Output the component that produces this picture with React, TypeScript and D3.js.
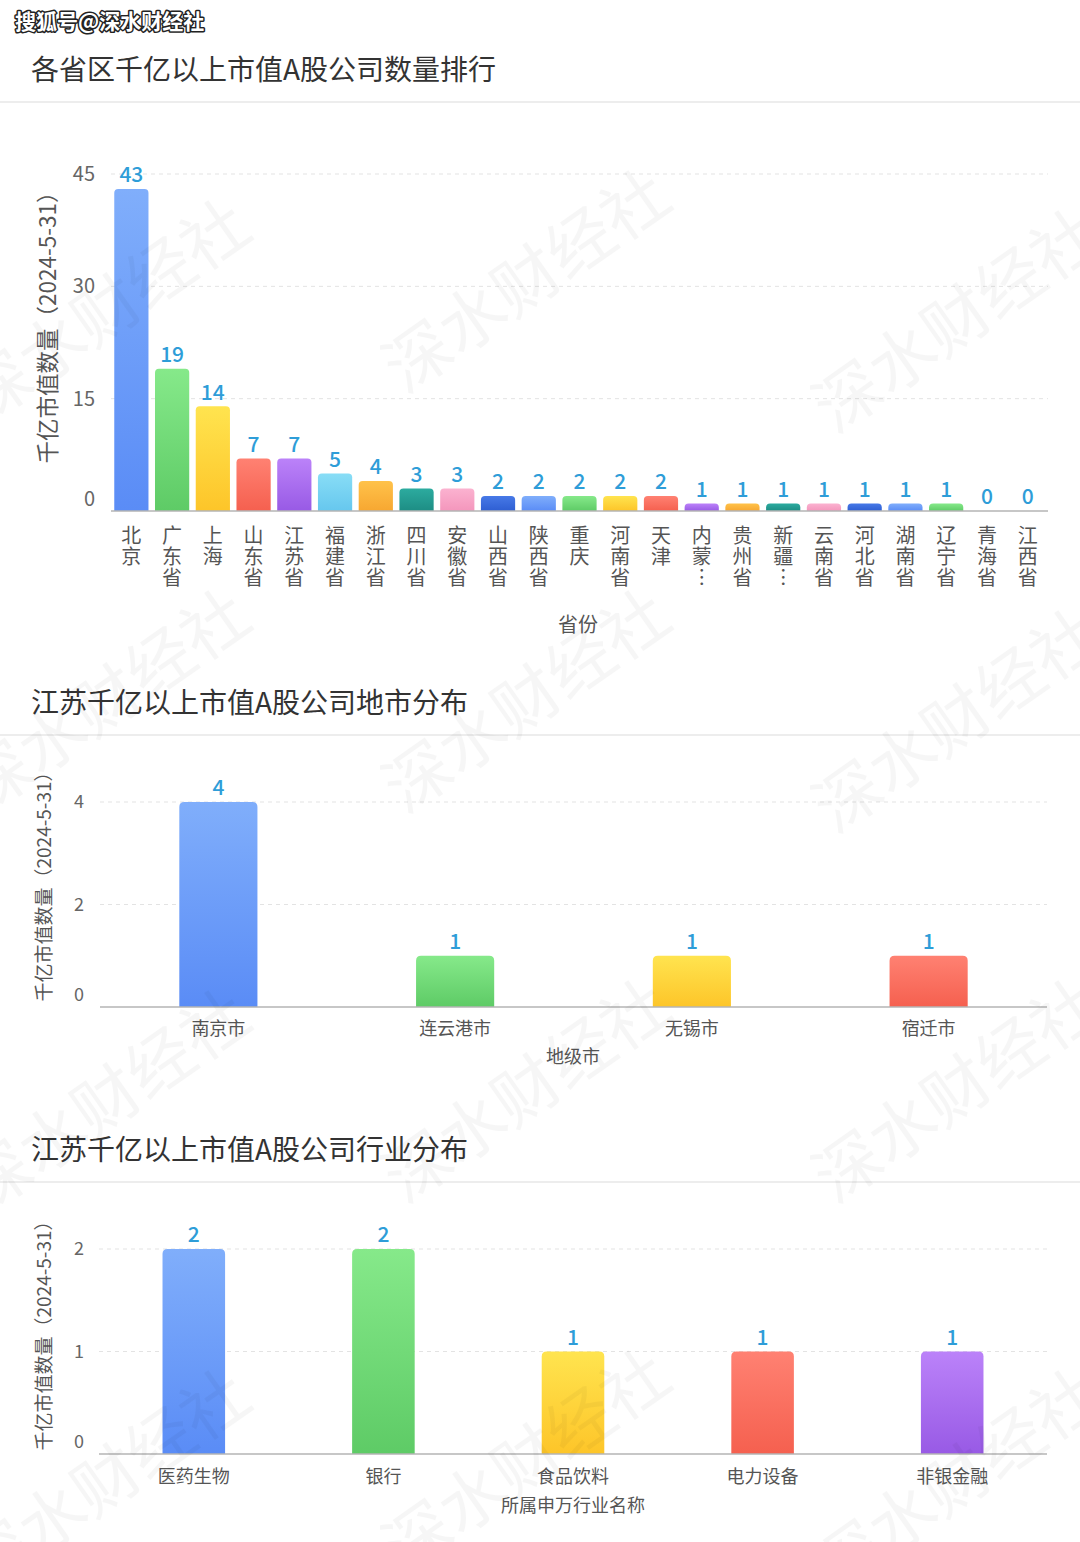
import React from "react";
import * as d3 from "d3";

// ---------- DATA ----------
const provinces = ["北京", "广东省", "上海", "山东省", "江苏省", "福建省", "浙江省", "四川省", "安徽省", "山西省", "陕西省", "重庆", "河南省", "天津", "内蒙古自治区", "贵州省", "新疆维吾尔自治区", "云南省", "河北省", "湖南省", "辽宁省", "青海省", "江西省"];
const provinceCounts = [43, 19, 14, 7, 7, 5, 4, 3, 3, 2, 2, 2, 2, 2, 1, 1, 1, 1, 1, 1, 1, 0, 0];
const provinceTicks = [0, 15, 30, 45];

const cities = ["南京市", "连云港市", "无锡市", "宿迁市"];
const cityCounts = [4, 1, 1, 1];
const cityTicks = [0, 2, 4];

const industries = ["医药生物", "银行", "食品饮料", "电力设备", "非银金融"];
const industryCounts = [2, 2, 1, 1, 1];
const industryTicks = [0, 1, 2];

const titles = ["各省区千亿以上市值A股公司数量排行", "江苏千亿以上市值A股公司地市分布", "江苏千亿以上市值A股公司行业分布"];
const yTitle = "千亿市值数量（2024-5-31）";
const xTitles = ["省份", "地级市", "所属申万行业名称"];

// ---------- STYLE ----------
const GRADS: Record<string, [string, string]> = {
  blue: ["#80aefb", "#5a8cf6"],
  green: ["#86e98a", "#5ecb66"],
  yellow: ["#ffe44f", "#fdc529"],
  red: ["#ff8172", "#f5604f"],
  purple: ["#bb82f9", "#985ae5"],
  lightblue: ["#88ddf6", "#66c7ee"],
  orange: ["#ffc24a", "#f7a731"],
  teal: ["#2cab9f", "#1d8d84"],
  pink: ["#fbb2d0", "#f496bc"],
  darkblue: ["#4779e7", "#2e5ed2"],
};
const palette1 = ["blue", "green", "yellow", "red", "purple", "lightblue", "orange", "teal", "pink", "darkblue", "blue", "green", "yellow", "red", "purple", "orange", "teal", "pink", "darkblue", "blue", "green", "blue", "green"];
const palette2 = ["blue", "green", "yellow", "red"];
const palette3 = ["blue", "green", "yellow", "red", "purple"];

const FONT = "'Noto Sans CJK SC', 'Noto Sans', sans-serif";
const LABEL_BLUE = "#2e9dd8";
const AXIS_TEXT = "#666";

function topRounded(x: number, y: number, w: number, h: number, r: number) {
  if (h <= 0) return "";
  const rr = Math.min(r, h, w / 2);
  return `M${x},${y + h}V${y + rr}Q${x},${y} ${x + rr},${y}H${x + w - rr}Q${x + w},${y} ${x + w},${y + rr}V${y + h}Z`;
}

function shortLabel(s: string) {
  return s.length > 3 ? s.slice(0, 2) + "︙" : s;
}

type ChartProps = {
  cats: string[];
  vals: number[];
  ticks: number[];
  palette: string[];
  x0: number; x1: number; yBase: number; yTop: number;
  pi: number; po: number; radius: number;
  tickX: number; tickFont: number;
  yTitleX: number; yTitleY: number; yTitleFont: number;
  vertical: boolean; labelY: number; labelFont: number;
  xTitle: string; xTitleX: number; xTitleY: number; xTitleFont: number;
  id: string;
};

function BarChart(p: ChartProps) {
  const x = d3.scaleBand<string>().domain(p.cats).range([p.x0, p.x1]).paddingInner(p.pi).paddingOuter(p.po);
  const maxT = p.ticks[p.ticks.length - 1];
  const y = d3.scaleLinear().domain([0, maxT]).range([p.yBase, p.yTop]);
  const bw = x.bandwidth();
  return (
    <g>
      {p.ticks.filter(t => t !== 0).map(t => (
        <line key={"g" + t} x1={p.x0} x2={p.x1} y1={y(t)} y2={y(t)} stroke="#e3e3e3" strokeWidth={1} strokeDasharray="4,4" />
      ))}
      {p.ticks.map(t => (
        <text key={"t" + t} x={p.tickX} y={y(t) - (t === 0 ? 12 : 0)} dy="0.35em" textAnchor="end" fontSize={p.tickFont} fill={AXIS_TEXT} fontFamily={FONT}>{t}</text>
      ))}
      <text transform={`translate(${p.yTitleX},${p.yTitleY}) rotate(-90)`} textAnchor="middle" dy="0.35em" fontSize={p.yTitleFont} fill="#555" fontFamily={FONT}>{yTitle}</text>
      {p.cats.map((c, i) => {
        const v = p.vals[i];
        const bx = x(c)!;
        const by = y(v);
        const h = p.yBase - by;
        return (
          <g key={c}>
            {v > 0 && <path d={topRounded(bx, by, bw, h, p.radius)} fill={`url(#${p.id}-${p.palette[i]})`} />}
            <text x={bx + bw / 2} y={by - 14} dy="0.35em" textAnchor="middle" fontSize={21} fill={LABEL_BLUE} fontFamily={FONT} fontWeight={500}>{v}</text>
          </g>
        );
      })}
      <line x1={p.x0} x2={p.x1} y1={p.yBase} y2={p.yBase} stroke="#b5b5b5" strokeWidth={1.5} />
      {p.cats.map(c => {
        const cx = x(c)! + bw / 2;
        if (p.vertical) {
          const chars = Array.from(shortLabel(c));
          return (
            <text key={"l" + c} textAnchor="middle" fontSize={p.labelFont} fill="#555" fontFamily={FONT}>
              {chars.map((ch, k) => (
                <tspan key={k} x={cx} y={p.labelY + k * 21}>{ch}</tspan>
              ))}
            </text>
          );
        }
        return <text key={"l" + c} x={cx} y={p.labelY} textAnchor="middle" fontSize={p.labelFont} fill="#555" fontFamily={FONT}>{c}</text>;
      })}
      <text x={p.xTitleX} y={p.xTitleY} textAnchor="middle" fontSize={p.xTitleFont} fill="#555" fontFamily={FONT}>{p.xTitle}</text>
    </g>
  );
}

function Gradients({ id }: { id: string }) {
  return (
    <>
      {Object.entries(GRADS).map(([k, [a, b]]) => (
        <linearGradient key={k} id={`${id}-${k}`} x1="0" y1="0" x2="0" y2="1">
          <stop offset="0%" stopColor={a} />
          <stop offset="100%" stopColor={b} />
        </linearGradient>
      ))}
    </>
  );
}

const wmPositions = [
  [120, 330], [540, 300], [970, 340], [120, 720], [540, 720], [970, 740],
  [120, 1120], [540, 1110], [970, 1110], [120, 1500], [540, 1480], [970, 1500],
];

export default function App() {
  return (
    <svg width={1080} height={1542} viewBox="0 0 1080 1542" style={{ position: "absolute", left: 0, top: 0, display: "block", background: "#fff" }}>
      <defs>
        <Gradients id="c1" />
        <Gradients id="c2" />
        <Gradients id="c3" />
      </defs>
      <rect x={0} y={0} width={1080} height={1542} fill="#fff" />

      {/* titles and separators */}
      <text x={31} y={80} fontSize={28} fill="#333" fontFamily={FONT}>{titles[0]}</text>
      <rect x={0} y={101} width={1080} height={2} fill="#ededed" />
      <text x={31} y={713} fontSize={28} fill="#333" fontFamily={FONT}>{titles[1]}</text>
      <rect x={0} y={734} width={1080} height={2} fill="#ededed" />
      <text x={31} y={1160} fontSize={28} fill="#333" fontFamily={FONT}>{titles[2]}</text>
      <rect x={0} y={1181} width={1080} height={2} fill="#ededed" />

      <BarChart id="c1" cats={provinces} vals={provinceCounts} ticks={provinceTicks} palette={palette1}
        x0={111} x1={1048} yBase={511} yTop={174} pi={0.16} po={0.08} radius={4}
        tickX={95} tickFont={20} yTitleX={48} yTitleY={322} yTitleFont={22.5}
        vertical={true} labelY={543} labelFont={20}
        xTitle={xTitles[0]} xTitleX={578} xTitleY={632} xTitleFont={20} />

      <BarChart id="c2" cats={cities} vals={cityCounts} ticks={cityTicks} palette={palette2}
        x0={100} x1={1047} yBase={1007} yTop={802} pi={0.67} po={0.335} radius={5}
        tickX={84} tickFont={18} yTitleX={44} yTitleY={882} yTitleFont={19}
        vertical={false} labelY={1035} labelFont={18}
        xTitle={xTitles[1]} xTitleX={573} xTitleY={1063} xTitleFont={18} />

      <BarChart id="c3" cats={industries} vals={industryCounts} ticks={industryTicks} palette={palette3}
        x0={99} x1={1047} yBase={1454} yTop={1249} pi={0.67} po={0.335} radius={5}
        tickX={84} tickFont={18} yTitleX={44} yTitleY={1331} yTitleFont={19}
        vertical={false} labelY={1483} labelFont={18}
        xTitle={xTitles[2]} xTitleX={573} xTitleY={1512} xTitleFont={18} />

      {/* faint diagonal watermarks */}
      {wmPositions.map(([wx, wy], i) => (
        <text key={i} transform={`translate(${wx},${wy}) rotate(-35)`} textAnchor="middle" fontSize={66} fill="#000" opacity={0.03} fontFamily={FONT}>深水财经社</text>
      ))}

      {/* corner watermark */}
      <text x={15} y={29} fontSize={21} fontFamily={FONT} fontWeight={700} fill="#fff" stroke="#222" strokeWidth={3} style={{ paintOrder: "stroke" }} strokeLinejoin="round">搜狐号@深水财经社</text>
    </svg>
  );
}
